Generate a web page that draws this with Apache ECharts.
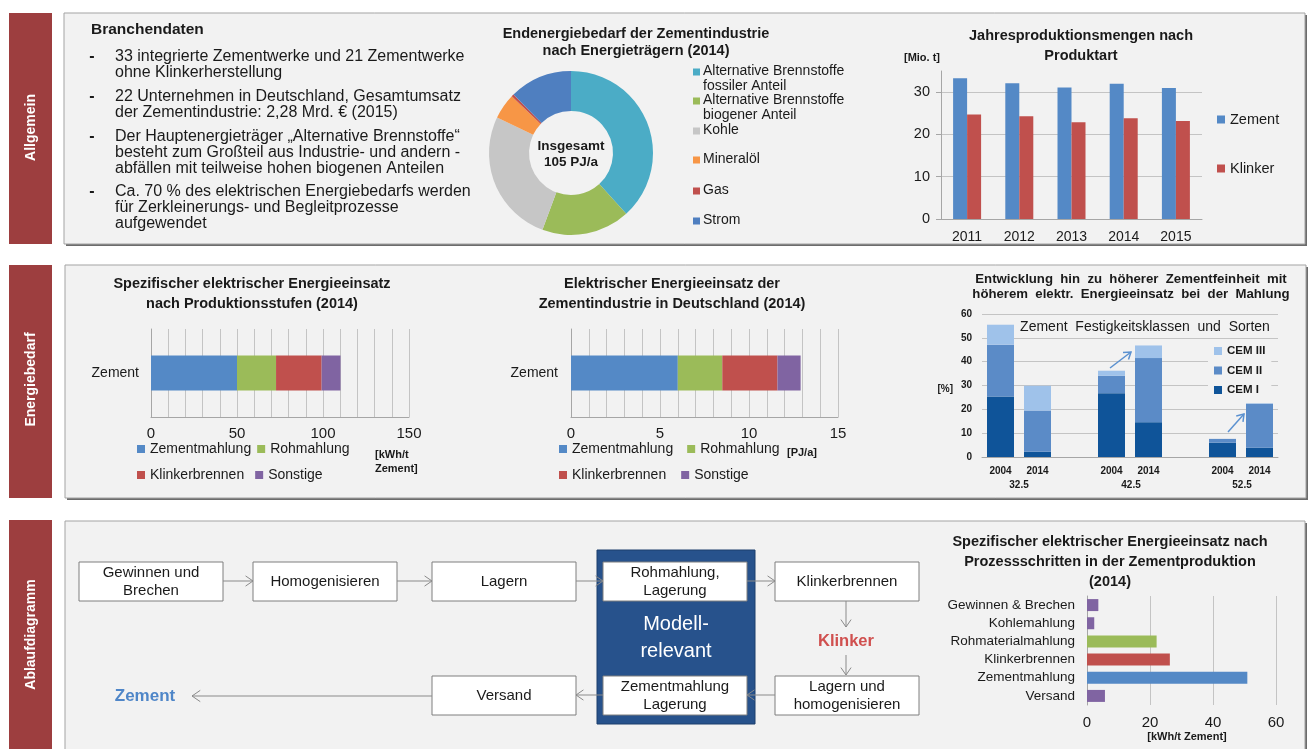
<!DOCTYPE html>
<html>
<head>
<meta charset="utf-8">
<script src="https://cdn.jsdelivr.net/npm/echarts@6/dist/echarts.min.js"></script>
<style>
  html, body { margin: 0; background: #fff; }
  #main { width: 1311px; height: 749px; }
</style>
</head>
<body>
<div id="main"></div>
<script>
const FONT = '"Liberation Sans", Arial, sans-serif';

// Endenergiebedarf nach Energieträgern 2014 [PJ/a]
const carriers = ['Alternative Brennstoffe\nfossiler Anteil', 'Alternative Brennstoffe\nbiogener Anteil', 'Kohle', 'Mineralöl', 'Gas', 'Strom'];
const carrierValues = [40.2, 18.3, 27.8, 5.3, 0.5, 13.0];

// Jahresproduktion [Mio. t]
const years = ['2011', '2012', '2013', '2014', '2015'];
const zementProd = [33.3, 32.1, 31.1, 32.0, 31.0];
const klinkerProd = [24.7, 24.3, 22.9, 23.8, 23.2];

// elektrischer Energieeinsatz nach Produktionsstufen
const stages = ['Zementmahlung', 'Rohmahlung', 'Klinkerbrennen', 'Sonstige'];
const stageKwh = [50.0, 22.7, 26.5, 11.0];   // kWh/t Zement
const stagePJ = [6.0, 2.5, 3.1, 1.3];        // PJ/a

// Festigkeitsklassen und Sorten [%]
const cemSlots = ['2004', '2014', '', '2004', '2014', '', '2004', '2014'];
const strengthClasses = ['32.5', '42.5', '52.5'];
const cem1 = [25.4, 2.2, null, 26.8, 14.6, null, 6.0, 3.9];
const cem2 = [21.7, 17.3, null, 7.3, 26.9, null, 1.6, 18.4];
const cem3 = [8.4, 10.4, null, 2.1, 5.3, null, 0, 0.2];

// Prozessschritte [kWh/t Zement]
const steps = ['Gewinnen & Brechen', 'Kohlemahlung', 'Rohmaterialmahlung', 'Klinkerbrennen', 'Zementmahlung', 'Versand'];
const stepValues = [3.6, 2.3, 22.1, 26.3, 50.9, 5.7];

const C = {
  blue: '#5489c6', red: '#c0504d', green: '#9bbb59', purple: '#8064a2',
  cyan: '#4bacc6', orange: '#f79646', gray: '#c6c6c6',
  cem1: '#0f5499', cem2: '#5b8bc7', cem3: '#9fc2ea',
  text: '#1a1a1a', grid: '#c4c4c4', axis: '#a6a6a6', tab: '#9d3e3f', panel: '#f2f2f2'
};
const carrierColors = [C.cyan, C.green, C.gray, C.orange, C.red, '#4f7fc0'];
const stageColors = [C.blue, C.green, C.red, C.purple];
const stepColors = [C.purple, C.purple, C.green, C.red, C.blue, C.purple];

const g = [];

function txt(x, y, text, o) {
  o = o || {};
  g.push({
    type: 'text', z: o.z || 20, x: x, y: y, rotation: o.rot || 0,
    style: {
      text: text, fontFamily: FONT, fontSize: o.size || 14,
      fontWeight: o.bold ? 'bold' : 'normal', fill: o.color || C.text,
      align: o.align || 'center', textAlign: o.align || 'center',
      verticalAlign: o.va || 'middle', textVerticalAlign: o.va || 'middle',
      lineHeight: o.lh || undefined
    }
  });
}

function box(x, y, w, h, fill, stroke, z) {
  g.push({ type: 'rect', z: z, shape: { x: x, y: y, width: w, height: h },
    style: { fill: fill, stroke: stroke, lineWidth: stroke ? 1 : 0 } });
}

function arrow(x1, y1, x2, y2, color, lw, h) {
  const a = Math.atan2(y2 - y1, x2 - x1), s = 0.6;
  g.push({ type: 'line', z: 15, shape: { x1: x1, y1: y1, x2: x2, y2: y2 },
    style: { stroke: color, lineWidth: lw } });
  g.push({ type: 'polyline', z: 15,
    shape: { points: [[x2 - h * Math.cos(a - s), y2 - h * Math.sin(a - s)], [x2, y2],
                      [x2 - h * Math.cos(a + s), y2 - h * Math.sin(a + s)]] },
    style: { stroke: color, lineWidth: lw, fill: null } });
}

// Reiter und Felder
[[13, 231, 'Allgemein'], [265, 233, 'Energiebedarf'], [520, 240, 'Ablaufdiagramm']].forEach(function (t) {
  box(9, t[0], 43, t[1], C.tab, null, -10);
  txt(31, t[0] + Math.min(t[1], 229) / 2, t[2], { rot: Math.PI / 2, bold: true, size: 14, color: '#fff' });
});
[[64, 13, 1241, 231], [65, 265, 1241, 233], [65, 521, 1240, 240]].forEach(function (p) {
  box(p[0] + 2, p[1] + 2, p[2], p[3], '#6c6c6c', null, -12);
  box(p[0], p[1], p[2], p[3], C.panel, '#a3a3a3', -11);
});

// Branchendaten
txt(91, 30, 'Branchendaten', { bold: true, size: 15.5, align: 'left' });
const bullets = [
  [57, '33 integrierte Zementwerke und 21 Zementwerke\nohne Klinkerherstellung'],
  [97, '22 Unternehmen in Deutschland, Gesamtumsatz\nder Zementindustrie: 2,28 Mrd. € (2015)'],
  [137, 'Der Hauptenergieträger „Alternative Brennstoffe“\nbesteht zum Großteil aus Industrie- und andern -\nabfällen mit teilweise hohen biogenen Anteilen'],
  [192, 'Ca. 70 % des elektrischen Energiebedarfs werden\nfür Zerkleinerungs- und Begleitprozesse\naufgewendet']
];
bullets.forEach(function (b) {
  txt(92, b[0], '-', { size: 16, bold: true });
  txt(115, b[0] - 8, b[1], { size: 16, align: 'left', va: 'top', lh: 16 });
});

// Donut Titel, Mitte, Legende
txt(636, 42, 'Endenergiebedarf der Zementindustrie\nnach Energieträgern (2014)', { bold: true, size: 14.5, lh: 17 });
txt(571, 154, 'Insgesamt\n105 PJ/a', { bold: true, size: 13.5, lh: 16 });
const carrierLegendY = [72, 101, 131, 160, 191, 221];
carriers.forEach(function (name, i) {
  box(693, carrierLegendY[i] - 3.5, 7, 7, carrierColors[i], null, 20);
  txt(703, carrierLegendY[i] - 8, name, { size: 14, align: 'left', va: 'top', lh: 15 });
});

// Jahresproduktion Titel
txt(1081, 46, 'Jahresproduktionsmengen nach\nProduktart', { bold: true, size: 14.5, lh: 20 });
txt(922, 58, '[Mio. t]', { bold: true, size: 11 });

// Mitte Titel und Einheiten
txt(252, 294, 'Spezifischer elektrischer Energieeinsatz\nnach Produktionsstufen (2014)', { bold: true, size: 14.5, lh: 20 });
txt(375, 448, '[kWh/t\nZement]', { bold: true, size: 11, align: 'left', va: 'top', lh: 14 });
txt(672, 294, 'Elektrischer Energieeinsatz der\nZementindustrie in Deutschland (2014)', { bold: true, size: 14.5, lh: 20 });
txt(787, 453, '[PJ/a]', { bold: true, size: 11, align: 'left' });
txt(1131, 287, 'Entwicklung  hin  zu  höherer  Zementfeinheit  mit\nhöherem  elektr.  Energieeinsatz  bei  der  Mahlung', { bold: true, size: 13.2, lh: 15 });
g.push({ type: 'rect', z: 3, shape: { x: 1016, y: 318, width: 256, height: 18 }, style: { fill: C.panel } });
txt(1145, 327, 'Zement  Festigkeitsklassen  und  Sorten', { size: 14 });
txt(953, 389, '[%]', { bold: true, size: 10, align: 'right' });
const groupX = [1019, 1131, 1242];
strengthClasses.forEach(function (s, i) { txt(groupX[i], 485, s, { bold: true, size: 10 }); });
arrow(1110, 368, 1131, 352, '#5b91d0', 1.5, 8);
arrow(1228, 432, 1244, 414, '#5b91d0', 1.5, 8);

// Ablaufdiagramm
const flowBoxes = [
  [79, 562, 'Gewinnen und\nBrechen'], [253, 562, 'Homogenisieren'], [432, 562, 'Lagern'],
  [775, 562, 'Klinkerbrennen'], [432, 676, 'Versand'], [775, 676, 'Lagern und\nhomogenisieren']
];
box(597, 550, 158, 174, '#27528c', '#1c3e6c', 5);
flowBoxes.concat([[603, 562, 'Rohmahlung,\nLagerung'], [603, 676, 'Zementmahlung\nLagerung']]).forEach(function (b) {
  box(b[0], b[1], 144, 39, '#fff', '#7f7f7f', 6);
  txt(b[0] + 72, b[1] + 19.5, b[2], { size: 15, lh: 18 });
});
txt(676, 638, 'Modell-\nrelevant', { size: 20, color: '#fff', lh: 27 });
txt(846, 641, 'Klinker', { bold: true, size: 16.5, color: '#d0504f' });
txt(145, 696, 'Zement', { bold: true, size: 17, color: '#4f86c8' });
const ac = '#8a8a8a';
arrow(223, 581, 253, 581, ac, 1, 9);
arrow(397, 581, 432, 581, ac, 1, 9);
arrow(576, 581, 603, 581, ac, 1, 9);
arrow(747, 581, 775, 581, ac, 1, 9);
arrow(846, 601, 846, 627, ac, 1, 9);
arrow(846, 655, 846, 675, ac, 1, 9);
arrow(775, 695, 747, 695, ac, 1, 9);
arrow(603, 695, 576, 695, ac, 1, 9);
arrow(432, 696, 192, 696, ac, 1, 10);

txt(1110, 562, 'Spezifischer elektrischer Energieeinsatz nach\nProzessschritten in der Zementproduktion\n(2014)', { bold: true, size: 14.5, lh: 20 });
txt(1187, 737, '[kWh/t Zement]', { bold: true, size: 11 });

const lbl = function (size, extra) {
  return Object.assign({ fontFamily: FONT, fontSize: size, color: C.text }, extra || {});
};
const stageLegend = function (items, left, top, gap) {
  return { data: items, left: left, top: top, orient: 'horizontal', icon: 'rect', itemWidth: 8, itemHeight: 8,
    itemGap: gap, padding: 0, selectedMode: false, textStyle: lbl(14) };
};

const option = {
  animation: false,
  backgroundColor: '#fff',
  textStyle: { fontFamily: FONT },
  graphic: { elements: g },
  grid: [
    { left: 941, top: 71, width: 261, height: 148 },
    { left: 151, top: 329, width: 258, height: 88 },
    { left: 571, top: 329, width: 267, height: 88 },
    { left: 982, top: 314, width: 296, height: 143 },
    { left: 1087, top: 596, width: 189, height: 109 }
  ],
  xAxis: [
    { gridIndex: 0, type: 'category', data: years,
      axisLine: { lineStyle: { color: C.axis } }, axisTick: { lineStyle: { color: C.axis } },
      axisLabel: lbl(14, { margin: 11 }) },
    { gridIndex: 1, type: 'value', min: 0, max: 150, interval: 10,
      axisLine: { show: true, lineStyle: { color: C.axis } }, axisTick: { show: false },
      splitLine: { lineStyle: { color: C.grid } },
      axisLabel: lbl(15, { margin: 9, formatter: function (v) { return v % 50 === 0 ? v : ''; } }) },
    { gridIndex: 2, type: 'value', min: 0, max: 15, interval: 1,
      axisLine: { show: true, lineStyle: { color: C.axis } }, axisTick: { show: false },
      splitLine: { lineStyle: { color: C.grid } },
      axisLabel: lbl(15, { margin: 9, formatter: function (v) { return v % 5 === 0 ? v : ''; } }) },
    { gridIndex: 3, type: 'category', data: cemSlots,
      axisLine: { lineStyle: { color: C.axis } }, axisTick: { show: false },
      axisLabel: lbl(10, { fontWeight: 'bold', margin: 9, interval: 0 }) },
    { gridIndex: 4, type: 'value', min: 0, max: 60, interval: 20,
      axisLine: { show: false }, axisTick: { show: false },
      splitLine: { lineStyle: { color: C.grid } },
      axisLabel: lbl(15, { margin: 10 }) }
  ],
  yAxis: [
    { gridIndex: 0, type: 'value', min: 0, max: 35, interval: 10,
      axisLine: { show: true, lineStyle: { color: C.axis } }, axisTick: { show: true, lineStyle: { color: C.axis } },
      splitLine: { showMaxLine: false, lineStyle: { color: C.grid } },
      axisLabel: lbl(14.5, { margin: 11, showMaxLabel: false }) },
    { gridIndex: 1, type: 'category', data: ['Zement'],
      axisLine: { lineStyle: { color: C.axis } }, axisTick: { lineStyle: { color: C.axis } },
      axisLabel: lbl(14, { margin: 12 }) },
    { gridIndex: 2, type: 'category', data: ['Zement'],
      axisLine: { lineStyle: { color: C.axis } }, axisTick: { lineStyle: { color: C.axis } },
      axisLabel: lbl(14, { margin: 13 }) },
    { gridIndex: 3, type: 'value', min: 0, max: 60, interval: 10,
      axisLine: { show: false }, axisTick: { show: false },
      splitLine: { lineStyle: { color: C.grid } },
      axisLabel: lbl(10, { fontWeight: 'bold', margin: 10 }) },
    { gridIndex: 4, type: 'category', data: steps, inverse: true,
      axisLine: { lineStyle: { color: C.axis } }, axisTick: { lineStyle: { color: C.axis } },
      axisLabel: lbl(13.5, { margin: 12, interval: 0 }) }
  ],
  legend: [
    { data: ['Zement', 'Klinker'], orient: 'vertical', left: 1217, top: 112, icon: 'rect',
      itemWidth: 8, itemHeight: 8, itemGap: 34, padding: 0, selectedMode: false, textStyle: lbl(14.5) },
    stageLegend(stages.slice(0, 2), 137, 442, 6),
    stageLegend(stages.slice(2), 137, 468, 11),
    stageLegend(stages.slice(0, 2), 559, 442, 14),
    stageLegend(stages.slice(2), 559, 468, 15),
    { data: ['CEM III', 'CEM II', 'CEM I'], orient: 'vertical', left: 1208, top: 343, icon: 'rect',
      itemWidth: 8, itemHeight: 8, itemGap: 7.5, padding: [2, 6], selectedMode: false,
      backgroundColor: C.panel, textStyle: lbl(11.5, { fontWeight: 'bold', lineHeight: 12 }) }
  ],
  series: [
    { type: 'pie', name: 'Energieträger', center: [571, 153], radius: [42, 82], startAngle: 90,
      label: { show: false }, labelLine: { show: false }, emphasis: { disabled: true },
      data: carriers.map(function (n, i) { return { name: n, value: carrierValues[i], itemStyle: { color: carrierColors[i] } }; }) },
    { type: 'bar', name: 'Zement', xAxisIndex: 0, yAxisIndex: 0, data: zementProd, barWidth: 14, barGap: '0%',
      itemStyle: { color: C.blue } },
    { type: 'bar', name: 'Klinker', xAxisIndex: 0, yAxisIndex: 0, data: klinkerProd, barWidth: 14, barGap: '0%',
      itemStyle: { color: C.red } }
  ].concat(stages.map(function (s, i) {
    return { type: 'bar', name: s, stack: 'kwh', xAxisIndex: 1, yAxisIndex: 1, barWidth: 35,
      data: [stageKwh[i]], itemStyle: { color: stageColors[i] } };
  })).concat(stages.map(function (s, i) {
    return { type: 'bar', name: s, stack: 'pj', xAxisIndex: 2, yAxisIndex: 2, barWidth: 35,
      data: [stagePJ[i]], itemStyle: { color: stageColors[i] } };
  })).concat([
    { type: 'bar', name: 'CEM I', stack: 'cem', xAxisIndex: 3, yAxisIndex: 3, barWidth: 27, data: cem1, itemStyle: { color: C.cem1 } },
    { type: 'bar', name: 'CEM II', stack: 'cem', xAxisIndex: 3, yAxisIndex: 3, barWidth: 27, data: cem2, itemStyle: { color: C.cem2 } },
    { type: 'bar', name: 'CEM III', stack: 'cem', xAxisIndex: 3, yAxisIndex: 3, barWidth: 27, data: cem3, itemStyle: { color: C.cem3 } },
    { type: 'bar', name: 'Prozessschritte', xAxisIndex: 4, yAxisIndex: 4, barWidth: 12,
      data: stepValues.map(function (v, i) { return { value: v, itemStyle: { color: stepColors[i] } }; }) }
  ])
};

const chart = echarts.init(document.getElementById('main'));
chart.setOption(option);
</script>
</body>
</html>
